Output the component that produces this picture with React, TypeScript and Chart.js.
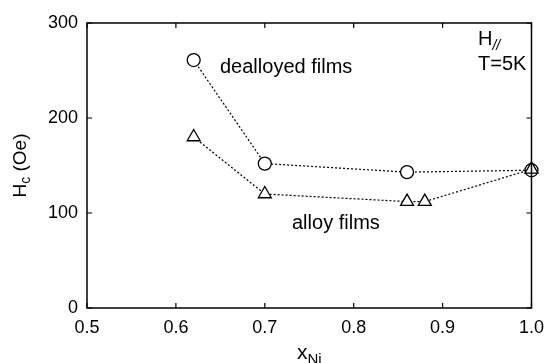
import React, { useEffect, useRef } from "react";
import { Chart, registerables } from "chart.js";

Chart.register(...registerables);

const xDealloyed = [0.62, 0.7, 0.86, 1.0];
const hcDealloyed = [261, 152, 143, 145];
const xAlloy = [0.62, 0.7, 0.86, 0.88, 1.0];
const hcAlloy = [180, 120, 112, 112, 146];
const xTicks = [0.5, 0.6, 0.7, 0.8, 0.9, 1.0];
const yTicks = [0, 100, 200, 300];

const FONT = '"Liberation Sans", Arial, Helvetica, sans-serif';

const framePlugin = {
  id: "frame",
  afterDatasetsDraw(chart: any) {
    const { ctx, chartArea: a, scales } = chart;
    const tl = 5;
    ctx.save();
    ctx.strokeStyle = "#000";
    ctx.lineWidth = 1.5;
    ctx.strokeRect(a.left, a.top, a.right - a.left, a.bottom - a.top);
    ctx.lineWidth = 1.2;
    ctx.beginPath();
    xTicks.forEach((v) => {
      const px = scales.x.getPixelForValue(v);
      ctx.moveTo(px, a.bottom);
      ctx.lineTo(px, a.bottom - tl);
      ctx.moveTo(px, a.top);
      ctx.lineTo(px, a.top + tl);
    });
    yTicks.forEach((v) => {
      const py = scales.y.getPixelForValue(v);
      ctx.moveTo(a.left, py);
      ctx.lineTo(a.left + tl, py);
      ctx.moveTo(a.right, py);
      ctx.lineTo(a.right - tl, py);
    });
    ctx.stroke();
    ctx.restore();
  },
  afterDraw(chart: any) {
    const { ctx, chartArea: a } = chart;
    ctx.save();
    ctx.fillStyle = "#000";
    ctx.textBaseline = "alphabetic";
    ctx.textAlign = "left";
    // annotations
    ctx.font = `20px ${FONT}`;
    ctx.fillText("dealloyed films", 220, 73);
    ctx.fillText("alloy films", 292, 229);
    ctx.fillText("H", 478, 45);
    const hw = ctx.measureText("H").width;
    ctx.fillText("T=5K", 478, 70);
    ctx.font = `italic 14px ${FONT}`;
    ctx.fillText("//", 478 + hw, 50);

    // x title
    ctx.font = `21px ${FONT}`;
    const xw = ctx.measureText("x").width;
    ctx.font = `15px ${FONT}`;
    const nw = ctx.measureText("Ni").width;
    const cx = (a.left + a.right) / 2;
    const x0 = cx - (xw + nw) / 2;
    ctx.font = `21px ${FONT}`;
    ctx.fillText("x", x0, 359);
    ctx.font = `15px ${FONT}`;
    ctx.fillText("Ni", x0 + xw, 364);

    // y title
    ctx.translate(26, (a.top + a.bottom) / 2);
    ctx.rotate(-Math.PI / 2);
    ctx.font = `19px ${FONT}`;
    const w1 = ctx.measureText("H").width;
    const w3 = ctx.measureText(" (Oe)").width;
    ctx.font = `14px ${FONT}`;
    const w2 = ctx.measureText("c").width;
    let sx = -(w1 + w2 + w3) / 2;
    ctx.font = `19px ${FONT}`;
    ctx.fillText("H", sx, 0);
    sx += w1;
    ctx.font = `14px ${FONT}`;
    ctx.fillText("c", sx, 4);
    sx += w2;
    ctx.font = `19px ${FONT}`;
    ctx.fillText(" (Oe)", sx, 0);
    ctx.restore();
  },
};

export default function App() {
  const ref = useRef<HTMLCanvasElement>(null);
  useEffect(() => {
    const chart = new Chart(ref.current as HTMLCanvasElement, {
      type: "scatter",
      data: {
        datasets: [
          {
            label: "alloy films",
            data: xAlloy.map((x, i) => ({ x, y: hcAlloy[i] })),
            showLine: true,
            borderColor: "#000",
            borderWidth: 1.2,
            borderDash: [2, 2],
            pointStyle: "triangle",
            pointRadius: 7.5,
            pointBorderWidth: 1.3,
            pointBackgroundColor: "#fff",
            pointBorderColor: "#000",
            clip: false,
            order: 0,
          } as any,
          {
            label: "dealloyed films",
            data: xDealloyed.map((x, i) => ({ x, y: hcDealloyed[i] })),
            showLine: true,
            borderColor: "#000",
            borderWidth: 1.2,
            borderDash: [2, 2],
            pointStyle: "circle",
            pointRadius: 6.5,
            pointBorderWidth: 1.3,
            pointBackgroundColor: "#fff",
            pointBorderColor: "#000",
            clip: false,
            order: 1,
          } as any,
        ],
      },
      options: {
        animation: false,
        responsive: false,
        devicePixelRatio: 1,
        layout: { padding: { top: 23, right: 16, left: 0, bottom: 0 } },
        plugins: { legend: { display: false }, tooltip: { enabled: false } },
        scales: {
          x: {
            type: "linear",
            min: 0.5,
            max: 1.0,
            afterBuildTicks: (s: any) => {
              s.ticks = xTicks.map((v) => ({ value: v }));
            },
            afterFit: (s: any) => {
              s.height = 55;
            },
            ticks: {
              color: "#000",
              font: { family: FONT, size: 18 },
              padding: 9,
              maxRotation: 0,
              autoSkip: false,
              callback: (v: any) => Number(v).toFixed(1),
            },
            grid: { display: false, drawTicks: false },
            border: { display: false },
          },
          y: {
            type: "linear",
            min: 0,
            max: 300,
            afterBuildTicks: (s: any) => {
              s.ticks = yTicks.map((v) => ({ value: v }));
            },
            afterFit: (s: any) => {
              s.width = 87;
            },
            ticks: {
              color: "#000",
              font: { family: FONT, size: 18 },
              padding: 9,
              callback: (v: any) => String(v),
            },
            grid: { display: false, drawTicks: false },
            border: { display: false },
          },
        },
      },
      plugins: [framePlugin],
    } as any);
    return () => chart.destroy();
  }, []);
  return (
    <div style={{ position: "absolute", left: 0, top: 0, width: 553, height: 363, background: "#fff" }}>
      <canvas ref={ref} width={553} height={363} />
    </div>
  );
}
